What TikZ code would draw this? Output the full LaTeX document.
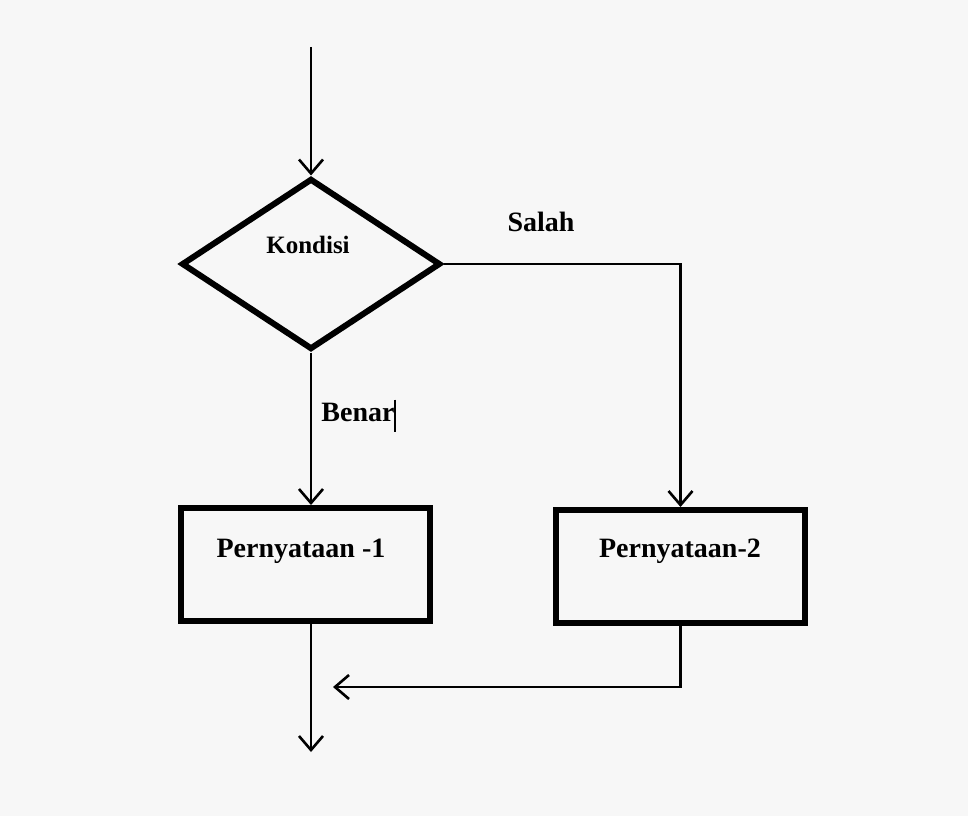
\documentclass[tikz,border=0pt]{standalone}
\usepackage{fontspec}
\setmainfont{Liberation Serif}
\usepackage{tikz}
\usetikzlibrary{arrows.meta,shapes.geometric}
\definecolor{page-grey}{RGB}{247,247,247}
\tikzstyle{decision}=[diamond, draw, line width=6pt, inner sep=0pt, minimum width=259pt, minimum height=171pt]
\tikzstyle{stmt}=[rectangle, draw, line width=6pt, inner sep=0pt, minimum width=249pt, minimum height=113pt]
\tikzstyle{flow}=[line width=2.6pt, -{Straight Barb[length=14pt,width=24pt,line width=2.6pt]}]
\tikzstyle{caption}=[font=\bfseries\fontsize{28}{32}\selectfont, inner sep=0pt]

\begin{document}
\begin{tikzpicture}[x=1pt, y=-1pt]
	\fill[page-grey] (0,0) rectangle (968,816);
	\node[decision] (cond) at (311,264) {};
	\node[caption, font=\bfseries\fontsize{25}{28}\selectfont] (condText) at (308,245) {Kondisi};
	\node[stmt] (stmtA) at (305.5,564.5) {};
	\node[caption] (stmtAText) at (301,551) {Pernyataan -1};
	\node[stmt] (stmtB) at (680.5,566.5) {};
	\node[caption] (stmtBText) at (680,551) {Pernyataan-2};
	\node[caption] (yes) at (358,412) {Benar};
	\node[caption] (no) at (541,222) {Salah};
	\coordinate (start) at (311,47);
	\coordinate (finish) at (311,752);
	\coordinate (merge) at (333,687);
	% connectors
	\draw[flow] (start) -- (cond.north);
	\draw[flow] (cond.south) -- (cond.south |- stmtA.north);
	\draw[flow] (cond.east) -| (stmtB.north);
	\draw[flow] (stmtA.south -| cond.south) -- (finish);
	\draw[flow] (stmtB.south) |- (merge);
	\draw[line width=2pt] (yes.north east) ++(0,-3) -- ++(0,32);
\end{tikzpicture}
\end{document}
